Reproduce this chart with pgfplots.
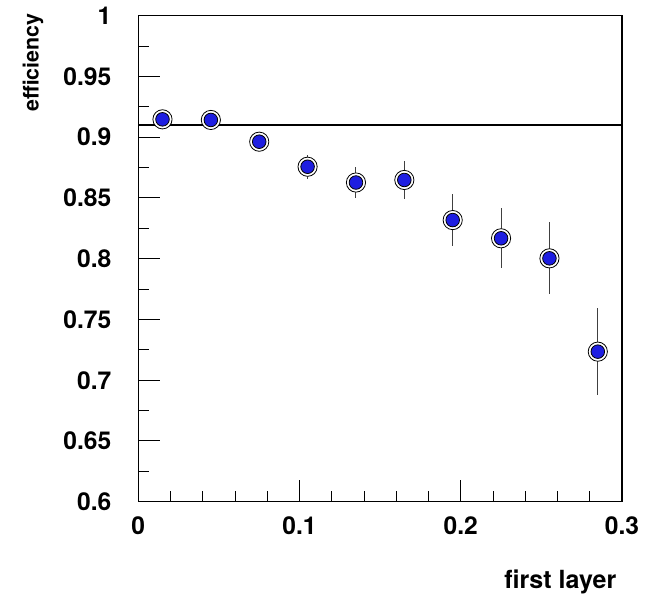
\documentclass[border=0pt]{standalone}
\usepackage{fontspec}
\setmainfont{TeX Gyre Heros}
\usepackage{pgfplots}
\usepackage{pgfplotstable}
\pgfplotsset{compat=1.18}
\definecolor{rootblue}{RGB}{30,30,225}
\pgfplotstableread{
x y e
0.015 0.9147 0.004
0.045 0.9142 0.005
0.075 0.8963 0.007
0.105 0.8757 0.010
0.135 0.8627 0.0125
0.165 0.8648 0.0157
0.195 0.8318 0.0217
0.225 0.8168 0.0246
0.255 0.8003 0.0295
0.285 0.7235 0.0357
}\effdata
\begin{document}
\begin{tikzpicture}
\begin{axis}[
  name=ax,
  scale only axis, width=241.85pt, height=243pt,
  xmin=0, xmax=0.3, ymin=0.6, ymax=1,
  xtick={0,0.1,0.2,0.3},
  ytick={0.6,0.65,0.7,0.75,0.8,0.85,0.9,0.95,1},
  minor xtick={0.02,0.04,0.06,0.08,0.12,0.14,0.16,0.18,0.22,0.24,0.26,0.28},
  minor ytick={0.625,0.675,0.725,0.775,0.825,0.875,0.925,0.975},
  xtick pos=bottom, ytick pos=left,
  tick align=inside,
  major tick length=10.8pt, minor tick length=5.4pt,
  scaled x ticks=false, scaled y ticks=false,
  axis line style={line width=0.6pt},
  every tick/.style={black, line width=0.5pt},
  /pgf/number format/assume math mode=true,
  tick label style={font=\fontsize{12.3}{14}\selectfont\bfseries},
  xticklabel style={inner sep=0pt, anchor=north, yshift=-7.5pt},
  yticklabel style={inner sep=0pt, anchor=east, xshift=-13.3pt},
]
\addplot[black, line width=0.6pt, forget plot] coordinates {(0,0.91) (0.3,0.91)};
\addplot[only marks, mark=*, mark size=4.8pt,
  mark options={draw=black, fill=white, line width=0.4pt},
  error bars/.cd, y dir=both, y explicit,
  error bar style={black!75, line width=0.5pt}, error mark=none]
  table[x=x, y=y, y error=e]{\effdata};
\addplot[only marks, mark=*, mark size=3.4pt,
  mark options={draw=none, fill=rootblue}]
  table[x=x, y=y]{\effdata};
\end{axis}
\node[anchor=base east, inner sep=0pt, font=\fontsize{12.5}{14}\selectfont\bfseries]
  at ([xshift=-2.65pt, yshift=-43.15pt]ax.south east) {first layer};
\node[rotate=90, anchor=base east, inner sep=0pt, font=\fontsize{10.7}{12}\selectfont\bfseries]
  at ([xshift=-49.85pt, yshift=1.35pt]ax.north west) {efficiency};
\path[use as bounding box] ([shift={(-69.15pt,-47.15pt)}]ax.south west) rectangle ([shift={(13pt,7.85pt)}]ax.north east);
\end{tikzpicture}
\end{document}
